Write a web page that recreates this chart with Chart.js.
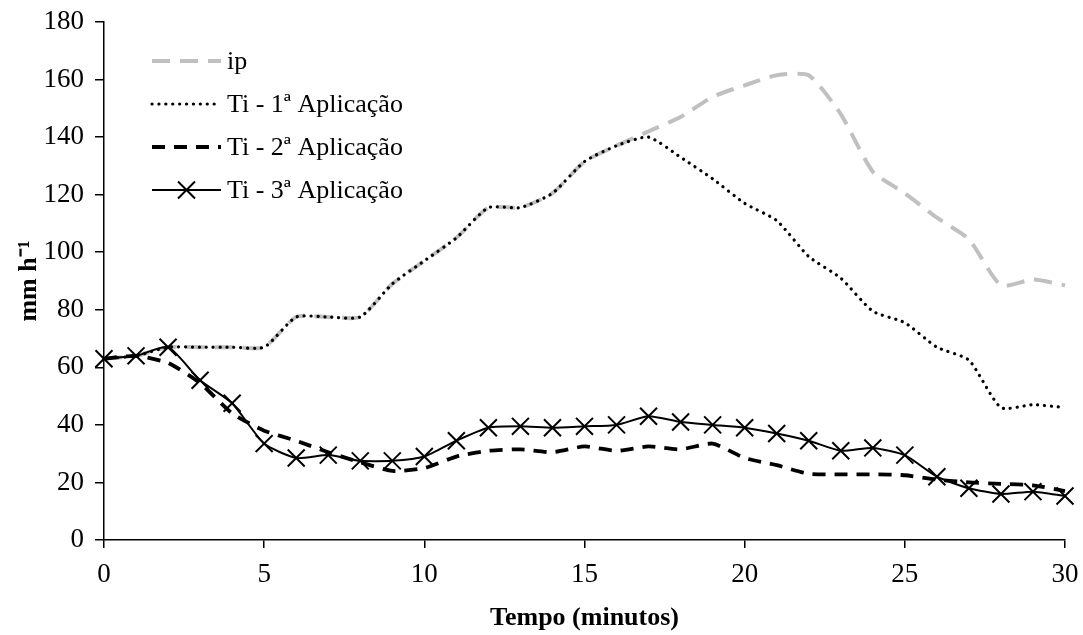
<!DOCTYPE html>
<html>
<head>
<meta charset="utf-8">
<title>Taxa de infiltração</title>
<script src="https://cdn.jsdelivr.net/npm/chart.js@4"></script>
<style>
  html, body { margin: 0; padding: 0; background: #fff; }
  #wrap { width: 1083px; height: 635px; }
</style>
</head>
<body>
<div id="wrap"><canvas id="infChart" width="1083" height="635"></canvas></div>
<script>
// minutos de ensaio
const minutes = [0, 1, 2, 3, 4, 5, 6, 7, 8, 9, 10, 11, 12, 13, 14, 15,
                 16, 17, 18, 19, 20, 21, 22, 23, 24, 25, 26, 27, 28, 29, 30];

// intensidade de precipitação (mm h-1)
const ip = [63, 64, 67, 67, 67, 67, 77.5, 77.5, 77.5, 89, 97, 105, 115.5, 115.5, 120.5, 131.5,
            137, 142, 147, 154, 158, 161.5, 161.5, 148, 128, 120.5, 112, 104.5, 88.5, 90.5, 88.5];

// taxa de infiltração em cada aplicação (mm h-1)
const ti1 = [63, 64, 67, 67, 67, 67, 77.5, 77.5, 77.5, 89, 97, 105, 115.5, 115.5, 120.5, 131.5,
             137, 140, 133, 125.5, 117, 111, 98.5, 91, 79.5, 75.5, 67, 62.5, 46, 47, 46];
const ti2 = [63, 64, 61.5, 54.5, 44, 38, 34.5, 30.5, 27, 24, 25, 29, 31, 31.5, 30.5, 32.5,
             31, 32.5, 31.5, 33.5, 28.5, 26, 23, 22.8, 22.8, 22.5, 21, 20, 19.5, 19, 17];
const ti3 = [63, 64, 67, 55.5, 47.5, 33.5, 28.5, 29.5, 27.5, 27.5, 29, 34.5, 39, 39.5, 39, 39.5,
             40, 43, 41, 40, 39, 37, 34.5, 31, 32, 29.5, 22, 18, 16, 16.8, 15.3];

const yTicks = [0, 20, 40, 60, 80, 100, 120, 140, 160, 180];
const xTicks = [0, 5, 10, 15, 20, 25, 30];

const toPoints = vals => vals.map((v, i) => ({ x: minutes[i], y: v }));

const FONT = "'Liberation Serif', 'Times New Roman', serif";

// legenda desenhada dentro da área do gráfico
const insideLegend = {
  id: 'insideLegend',
  afterDatasetsDraw(chart, args, opts) {
    const ctx = chart.ctx;
    chart.data.datasets.forEach((ds, i) => {
      const y = opts.top + i * opts.rowGap;
      const x0 = opts.left, x1 = opts.left + opts.lineLength;
      ctx.save();
      ctx.strokeStyle = ds.borderColor;
      ctx.lineWidth = ds.borderWidth;
      ctx.lineCap = ds.borderCapStyle || 'butt';
      ctx.setLineDash(ds.borderDash || []);
      ctx.beginPath();
      ctx.moveTo(x0, y);
      ctx.lineTo(x1, y);
      ctx.stroke();
      if (ds.pointRadius > 0) {
        const cx = (x0 + x1) / 2, r = ds.pointRadius * Math.SQRT1_2;
        ctx.setLineDash([]);
        ctx.lineWidth = ds.pointBorderWidth;
        ctx.strokeStyle = ds.pointBorderColor;
        ctx.beginPath();
        ctx.moveTo(cx - r, y - r); ctx.lineTo(cx + r, y + r);
        ctx.moveTo(cx - r, y + r); ctx.lineTo(cx + r, y - r);
        ctx.stroke();
      }
      ctx.fillStyle = '#000';
      ctx.font = opts.font;
      ctx.textBaseline = 'middle';
      ctx.textAlign = 'left';
      ctx.fillText(ds.label, x1 + opts.gap, y + 1);
      ctx.restore();
    });
  }
};

const ctx = document.getElementById('infChart').getContext('2d');
new Chart(ctx, {
  type: 'line',
  data: {
    datasets: [
      {
        label: 'ip',
        data: toPoints(ip),
        borderColor: '#c0c0c0',
        borderWidth: 4,
        borderDash: [18, 10],
        pointRadius: 0,
        tension: 0.2,
        order: 4
      },
      {
        label: 'Ti - 1ª Aplicação',
        data: toPoints(ti1),
        borderColor: '#000',
        borderWidth: 3.2,
        borderDash: [0.1, 6.8],
        borderCapStyle: 'round',
        pointRadius: 0,
        tension: 0.2,
        order: 3
      },
      {
        label: 'Ti - 2ª Aplicação',
        data: toPoints(ti2),
        borderColor: '#000',
        borderWidth: 3.8,
        borderDash: [13, 9],
        pointRadius: 0,
        tension: 0.2,
        order: 2
      },
      {
        label: 'Ti - 3ª Aplicação',
        data: toPoints(ti3),
        borderColor: '#000',
        borderWidth: 2,
        pointStyle: 'crossRot',
        pointRadius: 12,
        pointBorderWidth: 2,
        pointBorderColor: '#000',
        tension: 0.2,
        order: 1
      }
    ]
  },
  options: {
    responsive: false,
    animation: false,
    clip: false,
    layout: { padding: { top: 22, right: 18, left: 0, bottom: 0 } },
    plugins: {
      legend: { display: false },
      tooltip: { enabled: false },
      insideLegend: {
        left: 152, top: 61, rowGap: 43, lineLength: 69, gap: 6,
        font: "26px " + FONT
      }
    },
    scales: {
      x: {
        type: 'linear',
        min: 0,
        max: 30,
        afterFit: s => { s.height = 95; s.paddingLeft = 0; s.paddingRight = 0; },
        afterBuildTicks: s => { s.ticks = xTicks.map(v => ({ value: v })); },
        border: { color: '#000', width: 1.5 },
        grid: { drawOnChartArea: false, color: '#000', lineWidth: 1.5, tickLength: 8 },
        ticks: { color: '#000', padding: 11, maxRotation: 0, font: { family: FONT, size: 27 } },
        title: {
          display: true,
          text: 'Tempo (minutos)',
          color: '#000',
          padding: { top: 0, bottom: 1 },
          font: { family: FONT, size: 26, weight: 'bold' }
        }
      },
      y: {
        min: 0,
        max: 180,
        afterFit: s => { s.width = 104; s.paddingTop = 0; s.paddingBottom = 0; },
        afterBuildTicks: s => { s.ticks = yTicks.map(v => ({ value: v })); },
        border: { color: '#000', width: 1.5 },
        grid: { drawOnChartArea: false, color: '#000', lineWidth: 1.5, tickLength: 9 },
        ticks: { color: '#000', padding: 11, font: { family: FONT, size: 27 } },
        title: {
          display: true,
          text: 'mm h⁻¹',
          color: '#000',
          padding: { top: 14, bottom: 0 },
          font: { family: FONT, size: 26, weight: 'bold' }
        }
      }
    }
  },
  plugins: [insideLegend]
});
</script>
</body>
</html>
